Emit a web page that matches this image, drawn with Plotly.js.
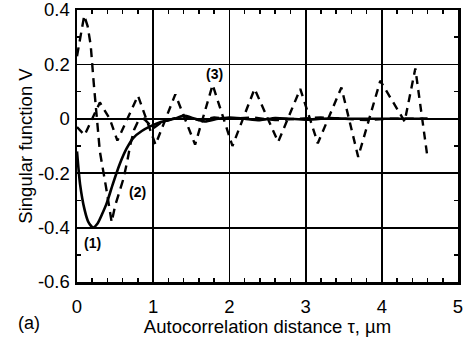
<!DOCTYPE html>
<html>
<head>
<meta charset="utf-8">
<script src="https://cdn.plot.ly/plotly-3.0.1.min.js"></script>
<style>
html,body{margin:0;padding:0;background:#fff;}
#chart{width:466px;height:337px;}
</style>
</head>
<body>
<div id="chart"></div>
<script>
// Curve (1): solid
const x1 = [0, 0.04, 0.1, 0.15, 0.21, 0.27, 0.33, 0.39, 0.47, 0.56, 0.65, 0.74, 0.85, 0.96, 1.1, 1.3, 1.4, 1.55, 1.68, 1.85, 2.0, 2.2, 2.4, 2.6, 2.8, 3.0, 3.2, 3.4, 3.6, 3.8, 4.0, 4.2, 4.4, 4.6];
const y1 = [-0.12, -0.24, -0.335, -0.38, -0.40, -0.385, -0.35, -0.31, -0.24, -0.167, -0.11, -0.07, -0.045, -0.028, -0.012, 0.002, 0.012, 0.0, -0.01, 0.0, 0.005, 0.0, -0.005, 0.003, 0.0, -0.003, 0.0, 0.002, 0.0, 0.0, 0.0, 0.0, 0.0, 0.0];

// Curve (2): dashed, large decaying swing
const x2 = [0, 0.05, 0.095, 0.14, 0.18, 0.22, 0.26, 0.30, 0.38, 0.455, 0.5, 0.56, 0.61, 0.66, 0.70, 0.75, 0.8, 0.88, 1.0, 1.1, 1.25, 1.4, 1.6, 1.8, 2.0, 2.3, 2.6, 2.9, 3.2, 3.5, 3.8, 4.1, 4.4, 4.6];
const y2 = [0.23, 0.31, 0.38, 0.34, 0.27, 0.13, -0.005, -0.12, -0.25, -0.38, -0.32, -0.27, -0.22, -0.155, -0.095, -0.04, -0.01, 0.0, -0.035, -0.015, 0.0, 0.01, -0.005, 0.005, 0.0, 0.005, -0.005, 0.0, 0.005, 0.0, -0.005, 0.0, 0.0, 0.0];

// Curve (3): dashed, oscillating
const x3 = [0, 0.1, 0.3, 0.43, 0.53, 0.8, 1.03, 1.29, 1.55, 1.78, 2.04, 2.33, 2.64, 2.93, 3.16, 3.47, 3.69, 3.98, 4.3, 4.44, 4.6];
const y3 = [-0.03, -0.06, 0.06, 0.0, -0.08, 0.085, -0.095, 0.09, -0.095, 0.125, -0.10, 0.11, -0.085, 0.11, -0.09, 0.115, -0.14, 0.14, -0.01, 0.185, -0.143];

// Curve labels
const labelText = ['(1)', '(2)', '(3)'];
const labelX = [0.2, 0.8, 1.81];
const labelY = [-0.455, -0.27, 0.165];

const xTickVals = [0, 1, 2, 3, 4, 5];
const yTickVals = [-0.6, -0.4, -0.2, 0, 0.2, 0.4];

const FONT = 'Liberation Sans, Arial, Helvetica, sans-serif';

const traces = [
  {x: x1, y: y1, mode: 'lines', line: {color: '#000', width: 2.6, shape: 'spline', smoothing: 0.6}, name: '(1)'},
  {x: x2, y: y2, mode: 'lines', line: {color: '#000', width: 2.4, dash: '9px,6px'}, name: '(2)'},
  {x: x3, y: y3, mode: 'lines', line: {color: '#000', width: 2.4, dash: '8px,6px'}, name: '(3)'}
];

const annotations = labelText.map((t, i) => ({
  x: labelX[i], y: labelY[i], xref: 'x', yref: 'y', text: t, showarrow: false,
  font: {family: FONT, size: 14, color: '#000', weight: 'bold'}
}));
annotations.push({
  x: -0.126, y: -0.149, xref: 'paper', yref: 'paper', text: '(a)', showarrow: false,
  xanchor: 'center', yanchor: 'middle',
  font: {family: FONT, size: 18, color: '#000'}
});

const axisCommon = {
  ticks: 'inside', ticklen: 6, tickwidth: 1.5, tickcolor: '#000',
  showline: true, linewidth: 2.5, linecolor: '#000', mirror: 'allticks',
  showgrid: true, gridcolor: '#000', gridwidth: 1.8, zeroline: false,
  ticklabeloverflow: 'allow',
  tickfont: {family: FONT, size: 18.5, color: '#000'}
};

const layout = {
  width: 466, height: 337,
  margin: {l: 77, r: 8, t: 10, b: 55},
  paper_bgcolor: '#fff', plot_bgcolor: '#fff',
  showlegend: false,
  xaxis: Object.assign({}, axisCommon, {
    range: [0, 5], tickvals: xTickVals, ticktext: xTickVals.map(String),
    ticklabelstandoff: 6,
    minor: {dtick: 0.2, tick0: 0, ticks: 'inside', ticklen: 4, tickwidth: 1.5, tickcolor: '#000', showgrid: false},
    title: {text: 'Autocorrelation distance τ, µm', font: {family: FONT, size: 18.5, color: '#000'}, standoff: 2}
  }),
  yaxis: Object.assign({}, axisCommon, {
    range: [-0.6, 0.4], tickvals: yTickVals, ticktext: yTickVals.map(v => v === 0 ? '0' : v.toFixed(1)),
    ticklabelstandoff: 1,
    minor: {dtick: 0.1, tick0: 0, ticks: 'inside', ticklen: 4, tickwidth: 1.5, tickcolor: '#000', showgrid: false},
    title: {text: 'Singular function V', font: {family: FONT, size: 18.5, color: '#000'}, standoff: 1}
  }),
  annotations: annotations
};

Plotly.newPlot('chart', traces, layout, {staticPlot: true, displayModeBar: false});
</script>
</body>
</html>
